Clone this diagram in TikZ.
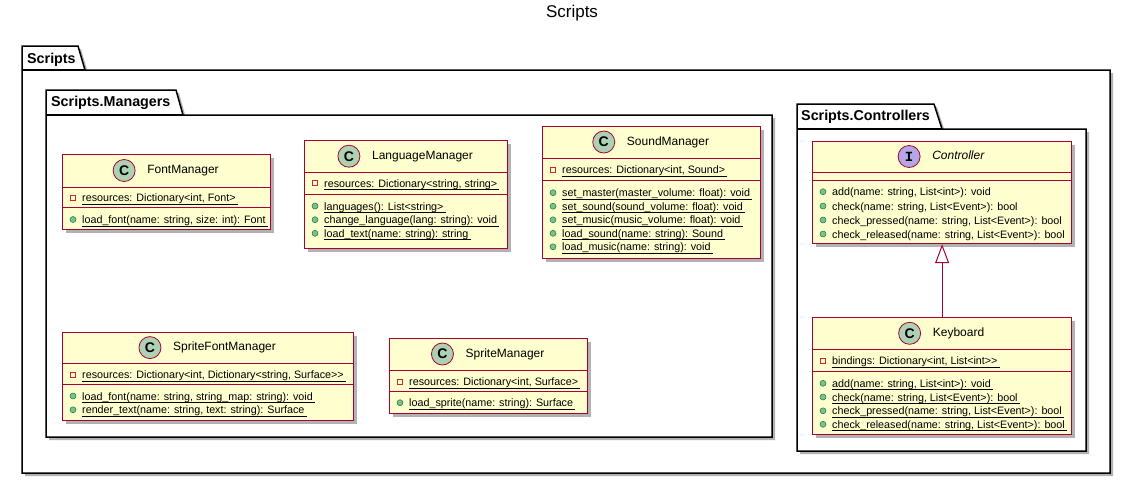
\documentclass[tikz,border=0pt]{standalone}
\usepackage{fontspec}
\setmainfont{Liberation Sans}
\newfontfamily\monofam{Liberation Mono}
\usetikzlibrary{arrows.meta,shadows}

\definecolor{classfill}{HTML}{FEFECE}
\definecolor{classborder}{HTML}{A80036}
\definecolor{cfill}{HTML}{ADD1B2}
\definecolor{ifill}{HTML}{B4A7E5}
\definecolor{privred}{HTML}{C82930}
\definecolor{pubfill}{HTML}{84BE84}
\definecolor{pubdraw}{HTML}{038048}

\tikzset{
  umlshadow/.style={drop shadow={shadow xshift=3pt, shadow yshift=-3pt, fill=black, opacity=0.3}},
  classbox/.style={rectangle, draw=classborder, fill=classfill, line width=1.2pt, inner sep=0pt, umlshadow},
  classline/.style={draw=classborder, line width=1pt},
  classname/.style={inner sep=0pt, font=\fontsize{12}{14}\selectfont, text height=9pt, text depth=3pt},
  kindmark/.style={circle, draw=classborder, line width=0.8pt, minimum size=22pt, inner sep=0pt,
                   font=\bfseries\fontsize{14}{14}\selectfont},
  member/.style={inner sep=0pt, anchor=base west, font=\fontsize{10.75}{13}\selectfont},
  staticline/.style={draw=black, line width=0.8pt},
  privmark/.style={rectangle, draw=privred, line width=0.8pt, minimum size=5pt, inner sep=0pt},
  pubmark/.style={circle, draw=pubdraw, fill=pubfill, line width=0.5pt, minimum size=6pt, inner sep=0pt},
  pkg/.style={draw=black, fill=white, line width=1.5pt, line join=miter, umlshadow},
  pkgline/.style={draw=black, line width=1.5pt},
  pkglabel/.style={inner sep=0pt, anchor=base west, font=\bfseries\fontsize{14.3}{16}\selectfont},
  inherit/.style={draw=classborder, line width=1pt, -{Triangle[open, length=19pt, width=14pt, fill=white]}},
}

% class frame: name, x1, y1, x2, y2, first divider, second divider
\newcommand{\umlframe}[7]{%
  \pgfmathsetmacro\cw{#4-#2}\pgfmathsetmacro\ch{#5-#3}%
  \node[classbox, minimum width=\cw pt, minimum height=\ch pt, anchor=north west] (#1) at (#2,#3) {};
  \draw[classline] (#2,#6) -- (#4,#6);
  \draw[classline] (#2,#7) -- (#4,#7);
}
% class header: name, x1, x2, y middle, circle fill, letter, title
\newcommand{\umlhead}[7]{%
  \node[classname] (#1-name) at ({(#2+#3)/2+17},#4) {#7};
  \node[kindmark, fill=#5] (#1-kind) at ([xshift=-23pt]#1-name.west) {#6};
}
% static members are underlined just below the baseline
\newcommand{\staticmark}[1]{%
  \draw[staticline] ([yshift=-2.5pt]#1.base west) -- ([yshift=-2.5pt,xshift=2pt]#1.base east);
}
% private static field: name, class left, row y, text
\newcommand{\privmember}[4]{%
  \node[privmark] (#1-icon) at (#2+11,#3) {};
  \node[member] (#1) at (#2+20,#3+4) {#4};
  \staticmark{#1}
}
% public static method
\newcommand{\pubmember}[4]{%
  \node[pubmark] (#1-icon) at (#2+11,#3) {};
  \node[member] (#1) at (#2+20,#3+4) {#4};
  \staticmark{#1}
}
% public abstract method
\newcommand{\pubabstract}[4]{%
  \node[pubmark] (#1-icon) at (#2+11,#3) {};
  \node[member] (#1) at (#2+20,#3+4) {#4};
}
% two closing angle brackets, kept apart so they do not merge into a guillemet
\newcommand{\gtgt}{>\kern0pt>}

\begin{document}
\begin{tikzpicture}[x=1pt, y=-1pt]
\useasboundingbox (0,0) rectangle (1131,485);

\node[font=\fontsize{17}{20}\selectfont, inner sep=0pt] (title) at (572,13) {Scripts};

% package Scripts
\path[pkg] (22,473) -- (22,46) -- (78,46) -- (85,70) -- (1110,70) -- (1110,473) -- cycle;
\draw[pkgline] (22,70) -- (85,70);
\node[pkglabel] (pkg-scripts) at (27,63) {Scripts};

% package Scripts.Managers
\path[pkg] (46,437) -- (46,90) -- (176,90) -- (183,115) -- (772,115) -- (772,437) -- cycle;
\draw[pkgline] (46,115) -- (183,115);
\node[pkglabel] (pkg-managers) at (51,106.5) {Scripts.Managers};

% package Scripts.Controllers
\path[pkg] (797,451) -- (797,104) -- (934,104) -- (942,129) -- (1086,129) -- (1086,451) -- cycle;
\draw[pkgline] (797,129) -- (942,129);
\node[pkglabel] (pkg-controllers) at (801,120.5) {Scripts.Controllers};

% FontManager
\umlframe{fm}{62}{154}{270}{229}{187}{207}
\umlhead{fm}{62}{270}{170.5}{cfill}{C}{FontManager}
\privmember{fm-res}{62}{197.5}{resources: Dictionary<int, Font>}
\pubmember{fm-load}{62}{219.5}{load\_font(name: string, size: int): Font}

% LanguageManager
\umlframe{lm}{304}{140}{507}{248}{172.3}{194.3}
\umlhead{lm}{304}{507}{156.2}{cfill}{C}{LanguageManager}
\privmember{lm-res}{304}{183.3}{resources: Dictionary<string, string>}
\pubmember{lm-lang}{304}{206}{languages(): List<string>}
\pubmember{lm-change}{304}{219.7}{change\_language(lang: string): void}
\pubmember{lm-load}{304}{233.3}{load\_text(name: string): string}

% SoundManager
\umlframe{sm}{542}{126}{760}{258}{158}{180}
\umlhead{sm}{542}{760}{142}{cfill}{C}{SoundManager}
\privmember{sm-res}{542}{169.5}{resources: Dictionary<int, Sound>}
\pubmember{sm-master}{542}{192.7}{set\_master(master\_volume: float): void}
\pubmember{sm-sound}{542}{206.2}{set\_sound(sound\_volume: float): void}
\pubmember{sm-music}{542}{219.8}{set\_music(music\_volume: float): void}
\pubmember{sm-lsound}{542}{233.3}{load\_sound(name: string): Sound}
\pubmember{sm-lmusic}{542}{246.8}{load\_music(name: string): void}

% SpriteFontManager
\umlframe{sfm}{62}{332}{353}{420}{363.3}{384.3}
\umlhead{sfm}{62}{353}{347.6}{cfill}{C}{SpriteFontManager}
\privmember{sfm-res}{62}{374.5}{resources: Dictionary<int, Dictionary<string, Surface\gtgt}
\pubmember{sfm-load}{62}{396}{load\_font(name: string, string\_map: string): void}
\pubmember{sfm-render}{62}{409.8}{render\_text(name: string, text: string): Surface}

% SpriteManager
\umlframe{spm}{389}{338}{587}{413}{370}{391}
\umlhead{spm}{389}{587}{354}{cfill}{C}{SpriteManager}
\privmember{spm-res}{389}{381.5}{resources: Dictionary<int, Surface>}
\pubmember{spm-load}{389}{402.7}{load\_sprite(name: string): Surface}

% Controller (interface)
\umlframe{ctrl}{812}{141}{1071}{243}{172}{180}
\umlhead{ctrl}{812}{1071}{156.5}{ifill}{{\monofam I}}{\textit{Controller}}
\pubabstract{ctrl-add}{812}{191.7}{add(name: string, List<int>): void}
\pubabstract{ctrl-check}{812}{206}{check(name: string, List<Event>): bool}
\pubabstract{ctrl-pressed}{812}{220}{check\_pressed(name: string, List<Event>): bool}
\pubabstract{ctrl-released}{812}{234}{check\_released(name: string, List<Event>): bool}

% Keyboard
\umlframe{kb}{812}{317}{1071}{434}{349.3}{371}
\umlhead{kb}{812}{1071}{333.3}{cfill}{C}{Keyboard}
\privmember{kb-bind}{812}{360.5}{bindings: Dictionary<int, List<int\gtgt}
\pubmember{kb-add}{812}{383.3}{add(name: string, List<int>): void}
\pubmember{kb-check}{812}{397}{check(name: string, List<Event>): bool}
\pubmember{kb-pressed}{812}{410.8}{check\_pressed(name: string, List<Event>): bool}
\pubmember{kb-released}{812}{424.3}{check\_released(name: string, List<Event>): bool}

% Keyboard implements Controller
\draw[inherit] (kb.north) -- (ctrl.south);
\end{tikzpicture}
\end{document}
